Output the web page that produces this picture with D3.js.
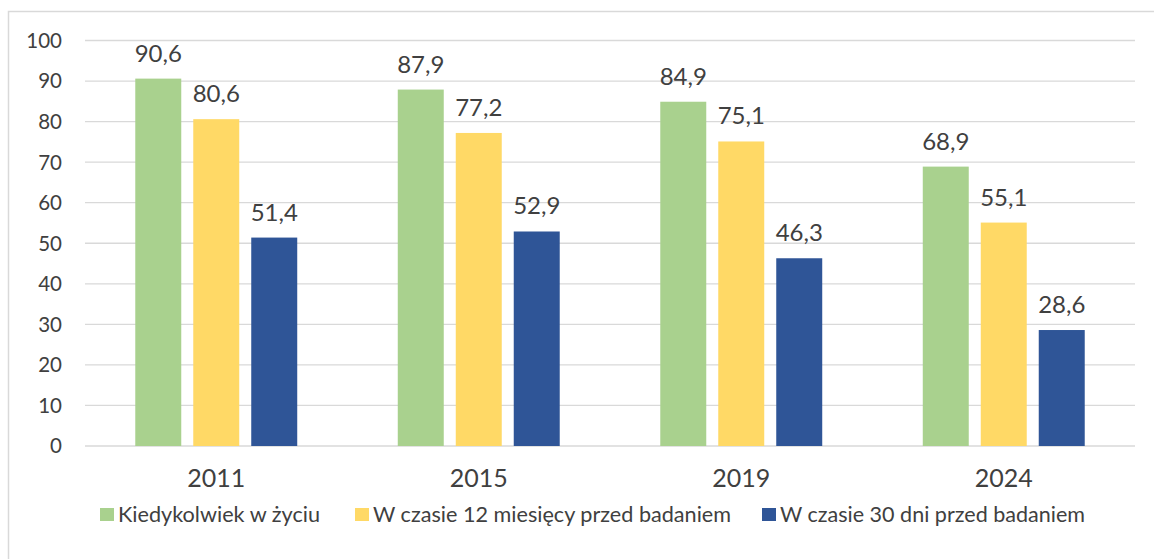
<!DOCTYPE html>
<html>
<head>
<meta charset="utf-8">
<script src="https://cdn.jsdelivr.net/npm/d3@7"></script>
<style>
  body { margin: 0; background: #fff; }
  text { font-family: Lato, "Open Sans", sans-serif; fill: #404040; }
</style>
</head>
<body>
<div id="chart"></div>
<script>
const years = ['2011', '2015', '2019', '2024'];
const seriesNames = ['Kiedykolwiek w życiu', 'W czasie 12 miesięcy przed badaniem', 'W czasie 30 dni przed badaniem'];
const everValues = [90.6, 87.9, 84.9, 68.9];
const yearValues = [80.6, 77.2, 75.1, 55.1];
const monthValues = [51.4, 52.9, 46.3, 28.6];
const colors = ['#A9D18E', '#FFD966', '#2F5597'];
const yTicks = [0, 10, 20, 30, 40, 50, 60, 70, 80, 90, 100];

const width = 1154, height = 559;
const margin = { top: 40.5, right: 19, bottom: 113, left: 85 };

const svg = d3.select('#chart').append('svg')
  .attr('width', width)
  .attr('height', height);

// outer frame
svg.append('rect')
  .attr('x', 8.5).attr('y', 11.5)
  .attr('width', width).attr('height', height)
  .attr('fill', 'none')
  .attr('stroke', '#d9d9d9')
  .attr('stroke-width', 1.5);

const series = [everValues, yearValues, monthValues];
const rows = years.map((y, i) => ({ year: y, vals: series.map(s => s[i]) }));

const x0 = d3.scaleBand()
  .domain(years)
  .range([margin.left, width - margin.right])
  .paddingInner(0.383)
  .paddingOuter(0.1915);

const x1 = d3.scaleBand()
  .domain(d3.range(3))
  .range([0, x0.bandwidth()])
  .paddingInner(0.207);

const y = d3.scaleLinear()
  .domain([0, 100])
  .range([height - margin.bottom, margin.top]);

// gridlines
svg.append('g')
  .selectAll('line')
  .data(yTicks)
  .join('line')
  .attr('x1', margin.left)
  .attr('x2', width - margin.right)
  .attr('y1', d => y(d))
  .attr('y2', d => y(d))
  .attr('stroke', '#d9d9d9')
  .attr('stroke-width', 1.3);

// y axis labels
svg.append('g')
  .selectAll('text')
  .data(yTicks)
  .join('text')
  .attr('x', 62)
  .attr('y', d => y(d))
  .attr('dy', '0.36em')
  .attr('text-anchor', 'end')
  .style('font-size', '20.5px')
  .text(d => d);

// bars
const groups = svg.append('g')
  .selectAll('g')
  .data(rows)
  .join('g')
  .attr('transform', d => `translate(${x0(d.year)},0)`);

groups.selectAll('rect')
  .data(d => d.vals.map((v, k) => ({ k, v })))
  .join('rect')
  .attr('x', d => x1(d.k))
  .attr('width', x1.bandwidth())
  .attr('y', d => y(d.v))
  .attr('height', d => y(0) - y(d.v))
  .attr('fill', d => colors[d.k]);

groups.selectAll('text.val')
  .data(d => d.vals.map((v, k) => ({ k, v })))
  .join('text')
  .attr('class', 'val')
  .attr('x', d => x1(d.k) + x1.bandwidth() / 2)
  .attr('y', d => y(d.v) - 17)
  .attr('text-anchor', 'middle')
  .style('font-size', '24px')
  .text(d => d.v.toFixed(1).replace('.', ','));

// category labels
svg.append('g')
  .selectAll('text')
  .data(years)
  .join('text')
  .attr('x', d => x0(d) + x0.bandwidth() / 2)
  .attr('y', 487)
  .attr('text-anchor', 'middle')
  .style('font-size', '25px')
  .text(d => d);

// legend
const legendX = [100, 355, 762];
const legendW = [202, 358, 305];
const legend = svg.append('g')
  .selectAll('g')
  .data(seriesNames)
  .join('g')
  .attr('transform', (d, i) => `translate(${legendX[i]},508)`);

legend.append('rect')
  .attr('width', 14).attr('height', 13)
  .attr('fill', (d, i) => colors[i]);

legend.append('text')
  .attr('x', 18)
  .attr('y', 14)
  .attr('textLength', (d, i) => legendW[i])
  .attr('lengthAdjust', 'spacingAndGlyphs')
  .style('font-size', '21px')
  .text(d => d);
</script>
</body>
</html>
